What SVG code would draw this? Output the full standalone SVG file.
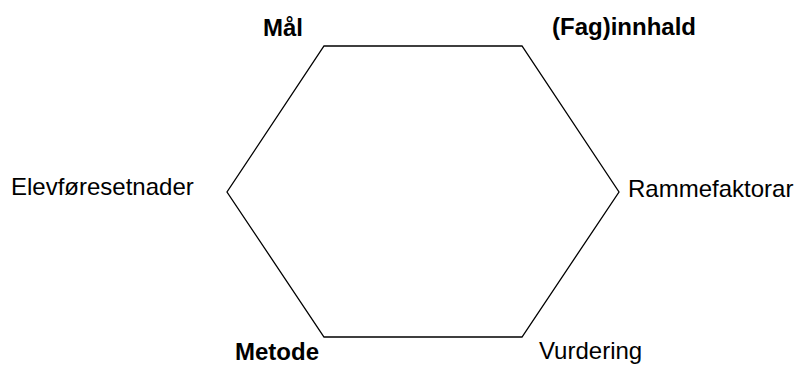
<svg xmlns="http://www.w3.org/2000/svg" width="798" height="365" viewBox="0 0 798 365">
<style>
.lbl{font-family:"Liberation Sans",Arial,sans-serif;font-size:24px;fill:#000}
.b{font-weight:bold}
.edge{fill:none;stroke:#000;stroke-width:1.3}
</style>
<rect width="798" height="365" fill="#fff"/>
<g id="connectors">
<polygon class="edge" points="324,46 522,46 619,192 522,337 324,337 227,192"/>
</g>
<g id="n-mal"><text class="lbl b" x="263" y="36">Mål</text></g>
<g id="n-innhald"><text class="lbl b" x="552" y="35">(Fag)innhald</text></g>
<g id="n-elev"><text class="lbl" x="11" y="195">Elevføresetnader</text></g>
<g id="n-ramme"><text class="lbl" x="628" y="197">Rammefaktorar</text></g>
<g id="n-metode"><text class="lbl b" x="235" y="360">Metode</text></g>
<g id="n-vurdering"><text class="lbl" x="539" y="359">Vurdering</text></g>
</svg>
